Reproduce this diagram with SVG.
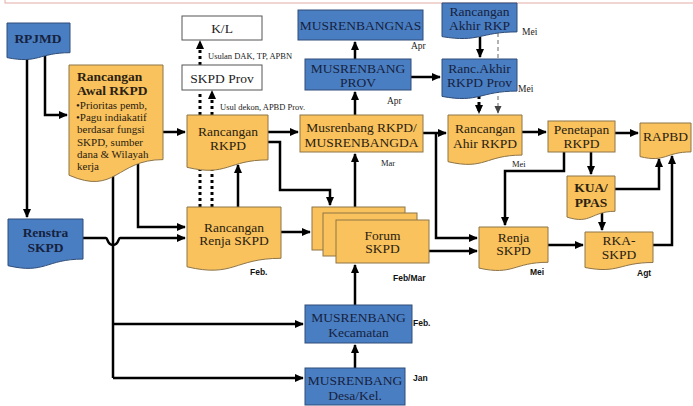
<svg xmlns="http://www.w3.org/2000/svg" width="693" height="406" viewBox="0 0 693 406">
<defs>
<marker id="ah" viewBox="0 0 10 10" refX="9" refY="5" markerWidth="9" markerHeight="9" markerUnits="userSpaceOnUse" orient="auto"><path d="M0,0.5 L10,5 L0,9.5 z" fill="#000"/></marker>
<marker id="ahg" viewBox="0 0 10 10" refX="9" refY="5" markerWidth="8" markerHeight="8" markerUnits="userSpaceOnUse" orient="auto"><path d="M0,0.5 L10,5 L0,9.5 z" fill="#444"/></marker>
</defs>
<style>
.c{fill:none;stroke:#000;stroke-width:2.5}
.a{marker-end:url(#ah)}
.dot{fill:none;stroke:#000;stroke-width:3;stroke-dasharray:3,3}
.dash{fill:none;stroke:#999;stroke-width:1.5;stroke-dasharray:4,3;marker-end:url(#ahg)}
.or{fill:#F9C25C;stroke:#8E7446;stroke-width:1}
.bl{fill:#4A7EC2;stroke:#2E4C78;stroke-width:1}
.wh{fill:#fff;stroke:#555;stroke-width:1}
text{font-family:"Liberation Serif","Times New Roman",serif;text-anchor:middle}
.tb{fill:#15223F;font-size:13.5px}
.to{fill:#2A2112;font-size:13.5px}
.tk{fill:#222;font-size:13.5px}
.bold{font-weight:bold}
.lbl{font-size:8.5px;fill:#222;text-anchor:start}
.m{font-size:9.5px;fill:#222;text-anchor:start}
.ms{font-family:"Liberation Sans",Arial,sans-serif;font-weight:bold;font-size:8.5px;fill:#111;text-anchor:start}
</style>
<rect x="5" y="-20" width="700" height="23" fill="none" stroke="#E2ABA5" stroke-width="1"/>
<g id="connectors">
<path class="c a" d="M27,59 V217"/>
<path class="c a" d="M45,56 V115 H67"/>
<path class="c a" d="M163,132 H185"/>
<path class="c a" d="M138,164 V227 H185"/>
<path class="c" d="M113,175 V378"/>
<path class="c a" d="M113,324 H303"/>
<path class="c a" d="M113,378 H303"/>
<path class="c a" d="M83,238 H106 C108,238 107,245 113,245 C119,245 118,238 120,238 H185"/>
<path class="c a" d="M268,132 H298"/>
<path class="c a" d="M268,142 H280 V190 H330 V205"/>
<path class="c a" d="M238,207 V165"/>
<path class="dot" d="M200,207 V170"/>
<path class="dot" d="M212,207 V170"/>
<path class="dot" d="M200,115 V92"/>
<path class="dot a" d="M212,115 V91"/>
<path class="dot a" d="M200,65 V41"/>
<path class="c a" d="M281,232 H310"/>
<path class="c a" d="M355,207 V154"/>
<path class="c a" d="M355,115 V92"/>
<path class="c a" d="M355,59 V42"/>
<path class="c a" d="M411,77 H440"/>
<path class="c a" d="M480,37 V57"/>
<path class="dash" d="M498,33 V113"/>
<path class="dot a" d="M479,96 V113"/>
<path class="c a" d="M423,133 H446"/>
<path class="c a" d="M436,133 V238 H477"/>
<path class="c a" d="M429,251 H477"/>
<path class="c a" d="M522,132 H546"/>
<path class="c a" d="M564,152 V171 H505 V225"/>
<path class="c a" d="M591,152 V174"/>
<path class="c a" d="M615,133 H638"/>
<path class="c a" d="M615,189 H659 V159"/>
<path class="c a" d="M602,213 V230"/>
<path class="c a" d="M548,245 H583"/>
<path class="c a" d="M653,245 H672 V156"/>
<path class="c a" d="M355,305 V265"/>
<path class="c a" d="M355,368 V345"/>
</g>
<g id="rpjmd"><path class="bl" d="M7,23 H70 V52.7 C38.5,52.7 38.5,64 7,57.6 Z"/><text class="tb bold" x="38" y="43" font-size="15.5">RPJMD</text></g>
<g id="rancangan-awal-rkpd"><path class="or" d="M69,65 H163 V159.6 C116,159.6 116,195.7 69,175.2 Z"/>
<text class="to bold" x="77" y="81" style="text-anchor:start" font-size="13.5">Rancangan</text>
<text class="to bold" x="77" y="95" style="text-anchor:start" font-size="13.5">Awal RKPD</text>
<text class="to" x="76" y="109" style="text-anchor:start;font-size:11px">•Prioritas pemb,</text>
<text class="to" x="76" y="121" style="text-anchor:start;font-size:11px">•Pagu indiakatif</text>
<text class="to" x="77" y="133" style="text-anchor:start;font-size:11px">berdasar fungsi</text>
<text class="to" x="77" y="146" style="text-anchor:start;font-size:11px">SKPD, sumber</text>
<text class="to" x="77" y="158" style="text-anchor:start;font-size:11px">dana &amp; Wilayah</text>
<text class="to" x="77" y="170" style="text-anchor:start;font-size:11px">kerja</text></g>
<g id="renstra-skpd"><path class="bl" d="M8,219 H83 V259.1 C45.5,259.1 45.5,274.4 8,265.7 Z"/><text class="tb bold" x="45.5" y="237" font-size="13.5">Renstra</text><text class="tb bold" x="45.5" y="252" font-size="13.5">SKPD</text></g>
<g id="kl"><rect class="wh" x="182" y="16" width="80" height="24"/><text class="tk" x="222" y="33">K/L</text></g>
<g id="skpd-prov"><rect class="wh" x="182" y="65" width="80" height="25"/><text class="tk" x="222" y="82.5">SKPD Prov</text></g>
<g id="rancangan-rkpd"><path class="or" d="M187,115 H268 V159.9 C227.5,159.9 227.5,177 187,167.3 Z"/><text class="to" x="228" y="135.5">Rancangan</text><text class="to" x="228" y="149.5">RKPD</text></g>
<g id="rancangan-renja-skpd"><path class="or" d="M187,207 H281 V258.3 C234,258.3 234,277.9 187,266.8 Z"/><text class="to" x="234" y="231.5">Rancangan</text><text class="to" x="234" y="245">Renja SKPD</text></g>
<g id="musrenbangnas"><rect class="bl" x="298" y="10" width="125" height="30"/><text class="tb" x="360.5" y="30" font-size="12.5">MUSRENBANGNAS</text></g>
<g id="musrenbang-prov"><rect class="bl" x="305" y="59" width="106" height="31"/><text class="tb" x="358" y="72.5" font-size="12.5">MUSRENBANG</text><text class="tb" x="358" y="86.5" font-size="12.5">PROV</text></g>
<g id="musrenbang-rkpd"><rect class="or" x="300" y="115" width="123" height="37"/><text class="to" x="361.5" y="131.5">Musrenbang RKPD/</text><text class="to" x="361.5" y="146.5" font-size="12.5">MUSRENBANGDA</text></g>
<g id="forum-skpd"><rect class="or" x="312" y="207" width="93" height="43"/><rect class="or" x="323" y="213" width="94" height="43"/><rect class="or" x="336" y="220" width="93" height="43"/><text class="to" x="382.5" y="239.5">Forum</text><text class="to" x="382.5" y="253">SKPD</text></g>
<g id="musrenbang-kecamatan"><rect class="bl" x="305" y="305" width="107" height="38"/><text class="tb" x="358.5" y="321.5" font-size="12.5">MUSRENBANG</text><text class="tb" x="358.5" y="337">Kecamatan</text></g>
<g id="musrenbang-desa"><rect class="bl" x="305" y="368" width="100" height="37"/><text class="tb" x="355" y="384.5" font-size="12.5">MUSRENBANG</text><text class="tb" x="355" y="400">Desa/Kel.</text></g>
<g id="rancangan-akhir-rkp"><path class="bl" d="M442,3 H517 V31.9 C479.5,31.9 479.5,42.9 442,36.6 Z"/><text class="tb" x="479.5" y="16">Rancangan</text><text class="tb" x="479.5" y="30">Akhir RKP</text></g>
<g id="ranc-akhir-rkpd-prov"><path class="bl" d="M442,59 H517 V91.1 C479.5,91.1 479.5,103.3 442,96.4 Z"/><text class="tb" x="479.5" y="72.5">Ranc.Akhir</text><text class="tb" x="479.5" y="87">RKPD Prov</text></g>
<g id="rancangan-ahir-rkpd"><path class="or" d="M448,115 H522 V155.1 C485,155.1 485,170.4 448,161.7 Z"/><text class="to" x="485" y="132.5">Rancangan</text><text class="to" x="485" y="147.5">Ahir RKPD</text></g>
<g id="penetapan-rkpd"><rect class="or" x="548" y="121" width="67" height="31"/><text class="to" x="581.5" y="133.5">Penetapan</text><text class="to" x="581.5" y="148">RKPD</text></g>
<g id="rapbd"><path class="or" d="M640,123 H691 V151.9 C665.5,151.9 665.5,162.9 640,156.6 Z"/><text class="to" x="665.5" y="140.5">RAPBD</text></g>
<g id="kua-ppas"><path class="or" d="M567,176 H615 V211.3 C591,211.3 591,224.8 567,217.1 Z"/><text class="to bold" x="591" y="192">KUA/</text><text class="to bold" x="591" y="206.5">PPAS</text></g>
<g id="renja-skpd"><path class="or" d="M479,227 H548 V262.3 C513.5,262.3 513.5,275.8 479,268.1 Z"/><text class="to" x="513.5" y="241.5">Renja</text><text class="to" x="513.5" y="255">SKPD</text></g>
<g id="rka-skpd"><path class="or" d="M585,232 H653 V262.5 C619,262.5 619,274.1 585,267.5 Z"/><text class="to" x="619" y="244.5">RKA-</text><text class="to" x="619" y="258.5">SKPD</text></g>
<g id="labels">
<text class="lbl" x="208" y="59">Usulan DAK, TP, APBN</text>
<text class="lbl" x="220" y="110">Usul dekon, APBD Prov.</text>
<text class="m" x="411" y="49">Apr</text>
<text class="m" x="387" y="104">Apr</text>
<text class="lbl" x="381" y="165.5">Mar</text>
<text class="m" x="522" y="35">Mei</text>
<text class="m" x="518" y="92">Mei</text>
<text class="lbl" x="512" y="166.5">Mei</text>
<text class="ms" x="530" y="275">Mei</text>
<text class="ms" x="637" y="276">Agt</text>
<text class="ms" x="250" y="275">Feb.</text>
<text class="ms" x="393" y="281">Feb/Mar</text>
<text class="ms" x="413" y="326">Feb.</text>
<text class="ms" x="413" y="381">Jan</text>
</g>
</svg>
